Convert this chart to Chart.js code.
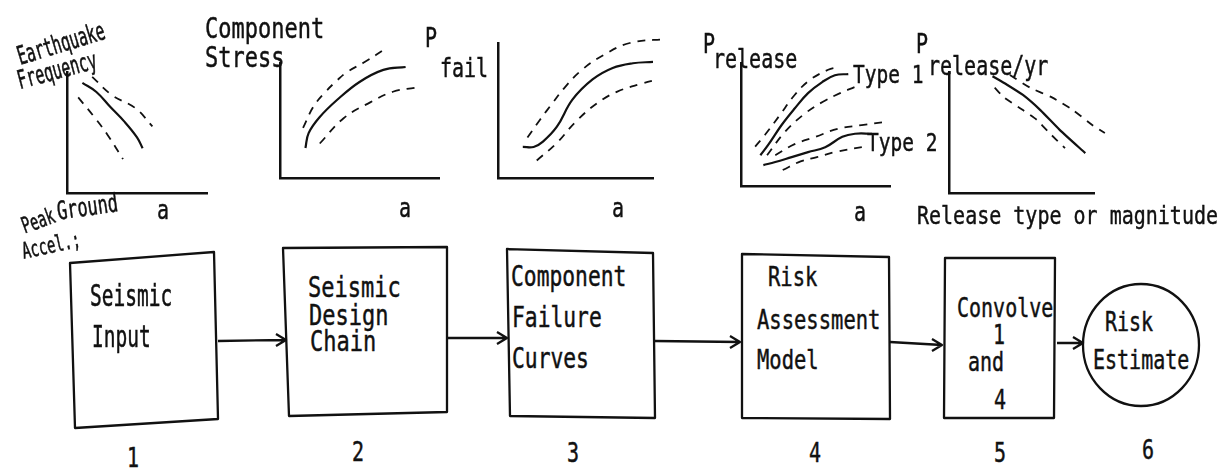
<!DOCTYPE html>
<html>
<head>
<meta charset="utf-8">
<script src="https://cdn.jsdelivr.net/npm/chart.js@4/dist/chart.umd.min.js"></script>
<style>
  body { margin: 0; background: #fff; width: 1227px; height: 468px; overflow: hidden; position: relative; color: #111; font-family: 'DejaVu Sans Mono', monospace; }
  canvas.mini { position: absolute; }
  .t { position: absolute; white-space: pre; line-height: 1; transform-origin: 0 50%; -webkit-text-stroke: 0.35px #111; }
  svg { position: absolute; left: 0; top: 0; }
</style>
</head>
<body>
<svg width="1227" height="468" fill="none" stroke="#111" stroke-width="2.3" stroke-linejoin="round">
  <!-- flow boxes -->
  <polygon points="70,263 214,252 218,419 75,428"/>
  <polygon points="283,248 447,247 447,412 289,416"/>
  <polygon points="507,249 653,253 655,418 510,416"/>
  <polygon points="742,254 889,257 890,419 742,418"/>
  <polygon points="945,258 1055,258 1054,418 944,418"/>
  <ellipse cx="1141" cy="345" rx="58" ry="61"/>
  <!-- arrows -->
  <path d="M218,341 L286,340 M276,334 L286,340 L276,346"/>
  <path d="M447,338 L507,338 M497,332 L507,338 L497,344"/>
  <path d="M655,341 L740,342 M730,336 L740,342 L730,348"/>
  <path d="M890,342 L942,345 M932,339 L942,345 L932,351"/>
  <path d="M1057,343 L1083,343 M1073,337 L1083,343 L1073,349"/>
</svg>
<script>
  // 1 地震頻度 vs peak ground accel
  const quakeMid  = [[1.1, 9.1], [2.1, 8.35], [3.1, 7.1], [4.1, 5.9], [5.0, 4.6], [5.4, 3.7]];
  const quakeHigh = [[1.8, 9.6], [3.2, 8.1], [4.9, 7.0], [6.1, 5.5]];
  const quakeLow  = [[0.8, 7.9], [2.0, 6.2], [2.9, 4.8], [4.0, 2.8]];

  // 2 component stress
  const stressMid  = [[1.6, 2.6], [1.8, 3.9], [2.5, 5.3], [3.6, 6.8], [5.0, 8.35], [6.5, 9.4], [7.9, 9.65]];
  const stressHigh = [[1.45, 4.35], [2.1, 6.2], [2.8, 7.4], [3.6, 8.5], [4.2, 9.2], [5.35, 10.1], [6.7, 11.3]];
  const stressLow  = [[2.5, 3.0], [4.0, 5.2], [5.7, 6.6], [7.1, 7.5], [8.5, 7.85]];

  // 3 P fail
  const failMid  = [[1.6, 2.3], [2.3, 2.3], [2.9, 2.7], [3.8, 3.8], [4.8, 5.8], [6.1, 7.3], [7.4, 8.15], [8.7, 8.5], [10, 8.6]];
  const failHigh = [[1.9, 3.0], [2.7, 4.3], [3.55, 5.6], [4.3, 6.7], [5.4, 8.0], [6.8, 9.1], [8.5, 10.0], [10.9, 10.3]];
  const failLow  = [[2.5, 1.3], [3.8, 2.6], [5.0, 4.15], [6.4, 5.55], [7.7, 6.4], [9.3, 7.0], [10.3, 7.3]];

  // 4 P release, type 1 / type 2
  const type1Mid  = [[1.3, 2.5], [1.8, 3.3], [2.75, 5.0], [3.6, 6.3], [4.5, 7.55], [5.45, 8.45], [6.3, 9.0], [7.2, 9.1]];
  const type1High = [[0.95, 3.2], [1.6, 4.15], [2.6, 5.75], [3.6, 7.4], [4.6, 8.6], [5.85, 9.45], [6.5, 9.65]];
  const type1Low  = [[1.75, 2.5], [2.95, 4.4], [4.3, 5.9], [5.5, 6.85], [6.65, 7.55], [7.65, 8.05]];
  const type2Mid  = [[1.5, 1.7], [2.3, 1.95], [3.4, 2.35], [4.5, 2.75], [5.65, 3.15], [6.8, 4.0], [7.65, 4.25], [8.8, 4.25]];
  const type2High = [[2.3, 2.5], [3.6, 3.4], [5.0, 4.0], [6.5, 4.65], [8.1, 4.95], [9.65, 5.2]];
  const type2Low  = [[2.8, 1.3], [4.0, 2.0], [5.1, 2.35], [6.3, 2.75], [8.5, 3.25]];

  // 5 P release/yr
  const annualMid  = [[3.0, 9.65], [4.0, 8.95], [5.1, 8.1], [6.3, 6.85], [7.65, 5.2], [9.4, 3.3]];
  const annualHigh = [[4.2, 9.75], [5.6, 8.7], [7.1, 7.9], [8.55, 6.85], [9.9, 5.6], [10.75, 4.95]];
  const annualLow  = [[3.15, 8.7], [3.85, 7.85], [5.1, 6.85], [6.05, 6.05], [6.85, 5.05], [8.0, 3.7]];

  const line = (pts, dashed, tension = 0.4) => ({
    data: pts.map(([x, y]) => ({ x, y })),
    showLine: true,
    borderColor: '#111',
    borderWidth: dashed ? 1.8 : 2.2,
    borderDash: dashed ? [8, 7] : [],
    pointRadius: 0,
    tension: tension,
    clip: false,
  });

  const axis = () => ({
    type: 'linear', min: 0, max: 10,
    grid: { display: false, drawTicks: false },
    ticks: { display: false },
    border: { display: true, color: '#111', width: 2.5 },
  });

  // 軸の位置 (plot area) ごとに小さいチャートを置く
  function mini(box, datasets) {
    const P = 30;
    const cv = document.createElement('canvas');
    cv.className = 'mini';
    cv.width = box.w + 2 * P;
    cv.height = box.h + 2 * P;
    cv.style.left = (box.x - P) + 'px';
    cv.style.top = (box.y - P) + 'px';
    document.body.appendChild(cv);
    new Chart(cv.getContext('2d'), {
      type: 'scatter',
      data: { datasets },
      options: {
        responsive: false,
        animation: false,
        layout: { padding: P },
        plugins: { legend: { display: false }, tooltip: { enabled: false } },
        scales: { x: axis(), y: axis() },
      },
    });
  }

  mini({ x: 67, y: 72, w: 140, h: 121 }, [line(quakeMid, false), line(quakeHigh, true), line(quakeLow, true)]);
  mini({ x: 280, y: 63, w: 159, h: 115 }, [line(stressMid, false), line(stressHigh, true), line(stressLow, true)]);
  mini({ x: 498, y: 43, w: 155, h: 135 }, [line(failMid, false), line(failHigh, true), line(failLow, true)]);
  mini({ x: 741, y: 63, w: 149, h: 123 }, [
    line(type1Mid, false), line(type1High, true), line(type1Low, true),
    line(type2Mid, false), line(type2High, true), line(type2Low, true),
  ]);
  mini({ x: 949, y: 72, w: 145, h: 121 }, [line(annualMid, false, 0.2), line(annualHigh, true, 0.2), line(annualLow, true, 0.2)]);

  function text(t, x, y, size, rot = 0, sy = 1.3) {
    const d = document.createElement('div');
    d.className = 't';
    d.textContent = t;
    d.style.left = x + 'px';
    d.style.top = (y - size / 2) + 'px';
    d.style.fontSize = size + 'px';
    d.style.transform = `rotate(${rot}deg) scaleY(${sy})`;
    document.body.appendChild(d);
  }

  // chart labels
  text('Earthquake', 18, 57, 15, -17, 1.7);
  text('Frequency', 18, 81, 15, -15, 1.7);
  text('Component', 205, 29, 22);
  text('Stress', 205, 58, 22);
  text('P', 425, 38, 20);
  text('fail', 440, 68, 20);
  text('P', 703, 44, 20);
  text('release', 713, 59, 20);
  text('P', 916, 44, 20);
  text('release/yr', 928, 66, 20);
  text('Type 1', 853, 75, 19.5);
  text('Type 2', 867, 143, 19.5);
  text('Peak', 22, 226, 14, -20, 1.6);
  text('Ground', 57, 211, 17, -8, 1.5);
  text('Accel.;', 22, 251, 14, -12, 1.6);
  text('a', 157, 210, 20);
  text('a', 399, 208, 20);
  text('a', 612, 208, 20);
  text('a', 854, 212, 20);
  text('Release type or magnitude', 917, 216, 20, 0, 1.2);

  // flow boxes
  text('Seismic', 90, 297, 19.5, 0, 1.5);
  text('Input', 92, 338, 19.5, 0, 1.5);
  text('Seismic', 308, 288, 22);
  text('Design', 309, 316, 22);
  text('Chain', 310, 342, 22);
  text('Component', 511, 277, 21.3);
  text('Failure', 512, 318, 21.3);
  text('Curves', 512, 359, 21.3);
  text('Risk', 768, 277, 20.5);
  text('Assessment', 757, 320, 20.5);
  text('Model', 757, 360, 20.5);
  text('Convolve', 957, 308, 20);
  text('1', 993, 335, 20);
  text('and', 968, 362, 20);
  text('4', 994, 400, 20);
  text('Risk', 1105, 322, 20);
  text('Estimate', 1093, 360, 20);

  // numbers under boxes
  text('1', 127, 458, 20);
  text('2', 352, 452, 20);
  text('3', 567, 453, 20);
  text('4', 809, 453, 20);
  text('5', 994, 453, 20);
  text('6', 1142, 450, 20);
</script>
</body>
</html>
